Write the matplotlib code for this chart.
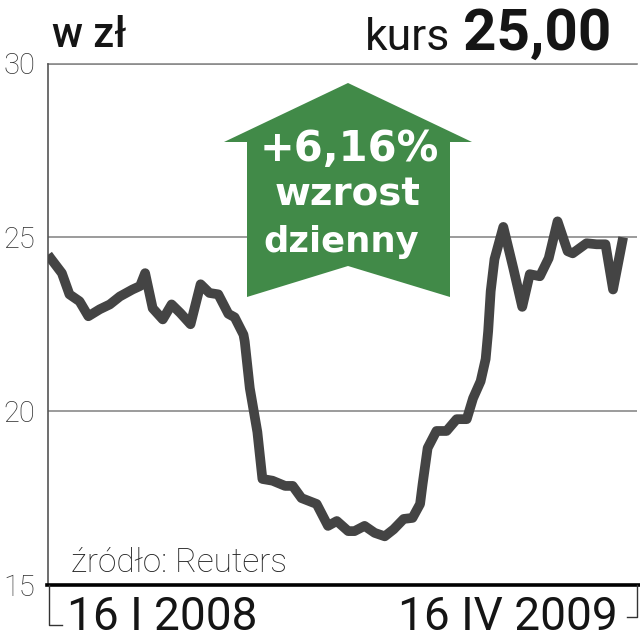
import matplotlib
matplotlib.use("Agg")
import matplotlib.pyplot as plt
from matplotlib.patches import Polygon
from matplotlib.lines import Line2D

# ---- data (days since 16 I 2008, price in zł) ----
days = [0, 2, 11, 17, 25, 32, 41, 49, 57, 67, 73, 77, 83, 91, 98, 105, 113, 121,
        128, 135, 143, 148, 155, 156, 160, 166, 170, 178, 188, 194, 201, 213, 222,
        229, 238, 243, 251, 259, 267, 274, 282, 289, 295, 297, 301, 308, 316, 324,
        332, 337, 343, 347, 349, 351, 354, 361, 369, 376, 382, 390, 397, 404, 412,
        416, 427, 435, 442, 448, 456]
price = [24.5, 24.4, 23.97, 23.36, 23.16, 22.73, 22.93, 23.07, 23.3, 23.5, 23.6,
         23.97, 22.96, 22.64, 23.07, 22.82, 22.5, 23.65, 23.4, 23.36, 22.8, 22.7,
         22.2, 22.0, 20.66, 19.4, 18.05, 18.0, 17.85, 17.85, 17.5, 17.33, 16.7,
         16.84, 16.55, 16.55, 16.7, 16.5, 16.4, 16.6, 16.9, 16.93, 17.33, 17.9,
         18.94, 19.43, 19.43, 19.77, 19.77, 20.37, 20.86, 21.5, 22.3, 23.45, 24.37,
         25.3, 24.1, 23.0, 23.94, 23.88, 24.4, 25.46, 24.6, 24.54, 24.83, 24.8,
         24.8, 23.5, 25.0]
y_ticks = [15, 20, 25, 30]
x_labels = ["16 I 2008", "16 IV 2009"]
unit_label = "w zł"
kurs_label = "kurs"
kurs_value = "25,00"
change_lines = ["+6,16%", "wzrost", "dzienny"]
source = "źródło: Reuters"

W = H = 640.0
def fx(px):
    return px / W
def fy(py):
    return 1 - py / H

plt.rcParams['font.family'] = ['Roboto', 'DejaVu Sans']

fig = plt.figure(figsize=(6.4, 6.4), dpi=100)
fig.patch.set_facecolor("white")

L, R, T, B = 48, 637, 63.5, 585
ax = fig.add_axes([fx(L), fy(B), fx(R) - fx(L), fy(T) - fy(B)])
ax.set_xlim(0, 467)
ax.set_ylim(15, 30)

for v in y_ticks[1:]:
    ax.axhline(v, color="#8a8a8a", lw=1.2, zorder=1)

ax.plot(days, price, color="#444444", lw=7.0, solid_joinstyle="round",
        solid_capstyle="butt", zorder=3)

for s in ["top", "right", "bottom"]:
    ax.spines[s].set_visible(False)
ax.spines["left"].set_color("#555555")
ax.spines["left"].set_linewidth(1.2)

ax.set_yticks(y_ticks)
ax.set_yticklabels([str(v) for v in y_ticks])
ax.tick_params(axis="y", length=0, pad=9, labelsize=21, labelcolor="#333333")
for lbl in ax.get_yticklabels():
    lbl.set_fontweight("light")
ax.set_xticks([])

# bottom thick line and brackets
fig.add_artist(Line2D([fx(47), fx(640)], [fy(585), fy(585)], color="black", lw=2.6))
fig.add_artist(Line2D([fx(49), fx(49), fx(62)], [fy(585), fy(625), fy(625)],
                      color="#333333", lw=1.0))
fig.add_artist(Line2D([fx(637), fx(637), fx(627)], [fy(585), fy(617), fy(617)],
                      color="#333333", lw=1.0))

# x labels
fig.text(fx(67), fy(630), x_labels[0], fontsize=33, fontweight="normal",
         ha="left", va="baseline", color="#151515")
fig.text(fx(618), fy(630), x_labels[1], fontsize=33, fontweight="normal",
         ha="right", va="baseline", color="#151515")

# header texts
fig.text(fx(52), fy(47), unit_label, fontsize=30, fontweight="medium",
         ha="left", va="baseline", color="#151515")
fig.text(fx(450), fy(50), kurs_label, fontsize=32, fontweight="normal",
         ha="right", va="baseline", color="#151515")
fig.text(fx(611), fy(50), kurs_value, fontsize=42, fontweight="bold",
         ha="right", va="baseline", color="#151515")

# source
fig.text(fx(71), fy(572), source, fontsize=24, fontweight="light",
         ha="left", va="baseline", color="#222222")

# green arrow
arrow_px = [(247, 297), (247, 142), (224, 142), (348, 83), (472, 142),
            (450, 142), (450, 297), (348, 266)]
arrow = Polygon([(fx(x), fy(y)) for x, y in arrow_px], closed=True,
                facecolor="#418a48", edgecolor="none", transform=fig.transFigure,
                zorder=5)
fig.add_artist(arrow)
afont = ['DejaVu Sans']
fig.text(fx(349), fy(161), change_lines[0], fontsize=30, fontweight="bold",
         family=afont, ha="center", va="baseline", color="white", zorder=6)
fig.text(fx(348), fy(206), change_lines[1], fontsize=28, fontweight="bold",
         family=afont, ha="center", va="baseline", color="white", zorder=6)
fig.text(fx(341), fy(252), change_lines[2], fontsize=25.5, fontweight="bold",
         family=afont, ha="center", va="baseline", color="white", zorder=6)

# top line at 30 (grid)
ax.axhline(30, color="#8a8a8a", lw=1.2, zorder=1, clip_on=False)

fig.savefig("out.png", dpi=100, facecolor="white")
